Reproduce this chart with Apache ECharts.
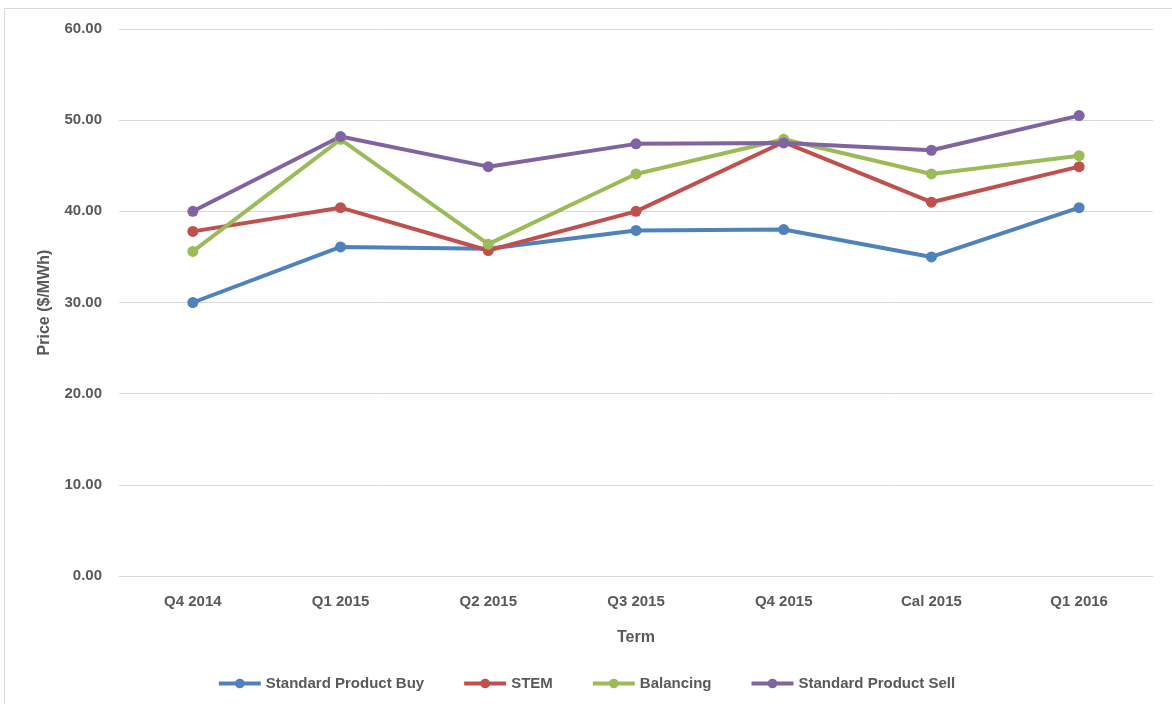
<!DOCTYPE html>
<html>
<head>
<meta charset="utf-8">
<title>Price by Term</title>
<script src="https://cdn.jsdelivr.net/npm/echarts@6/dist/echarts.min.js"></script>
<style>
  html, body { margin: 0; padding: 0; background: #fff; }
  #frame { position: absolute; left: 4px; top: 8px; width: 1172px; height: 700px; border: 1px solid #d9d9d9; box-sizing: border-box; }
  #chart { position: absolute; left: 0; top: 0; width: 1172px; height: 704px; }
</style>
</head>
<body>
<div id="frame"></div>
<div id="chart"></div>
<script>
// categories along x
const terms = ['Q4 2014', 'Q1 2015', 'Q2 2015', 'Q3 2015', 'Q4 2015', 'Cal 2015', 'Q1 2016']
// series values ($/MWh)
const standardBuy = [30.0, 36.1, 35.9, 37.9, 38.0, 35.0, 40.4]
const stem = [37.8, 40.4, 35.7, 40.0, 47.6, 41.0, 44.9]
const balancing = [35.6, 47.9, 36.4, 44.1, 47.9, 44.1, 46.1]
const standardSell = [40.0, 48.2, 44.9, 47.4, 47.5, 46.7, 50.5]

const textColor = '#595959'
const font = 'Liberation Sans'

function line (name, data, color) {
  return {
    name: name,
    type: 'line',
    data: data,
    symbol: 'circle',
    symbolSize: 11,
    lineStyle: { width: 4, color: color },
    itemStyle: { color: color },
    emphasis: { disabled: true }
  }
}

const chart = echarts.init(document.getElementById('chart'))
chart.setOption({
  animation: false,
  textStyle: { fontFamily: font },
  grid: { left: 119, right: 19, top: 29, bottom: 128 },
  legend: {
    bottom: 8,
    left: 'center',
    itemWidth: 42,
    itemHeight: 12,
    itemGap: 38,
    lineStyle: { width: 4 },
    textStyle: { color: textColor, fontSize: 15, fontWeight: 'bold', fontFamily: font },
    data: ['Standard Product Buy', 'STEM', 'Balancing', 'Standard Product Sell']
  },
  xAxis: {
    type: 'category',
    data: terms,
    name: 'Term',
    nameLocation: 'middle',
    nameGap: 54,
    nameTextStyle: { color: textColor, fontSize: 16, fontWeight: 'bold' },
    axisLine: { lineStyle: { color: '#d9d9d9', width: 1 } },
    axisTick: { show: false },
    axisLabel: { color: textColor, fontSize: 15, fontWeight: 'bold', margin: 18 }
  },
  yAxis: {
    type: 'value',
    min: 0,
    max: 60,
    interval: 10,
    name: 'Price ($/MWh)',
    nameLocation: 'middle',
    nameGap: 66,
    nameTextStyle: { color: textColor, fontSize: 16, fontWeight: 'bold' },
    axisLine: { show: false },
    axisTick: { show: false },
    splitLine: { lineStyle: { color: '#d9d9d9', width: 1 } },
    axisLabel: {
      color: textColor,
      fontSize: 15,
      fontWeight: 'bold',
      margin: 17,
      formatter: v => v.toFixed(2)
    }
  },
  series: [
    line('Standard Product Buy', standardBuy, '#4F81BD'),
    line('STEM', stem, '#C0504D'),
    line('Balancing', balancing, '#9BBB59'),
    line('Standard Product Sell', standardSell, '#8064A2')
  ]
})
</script>
</body>
</html>
